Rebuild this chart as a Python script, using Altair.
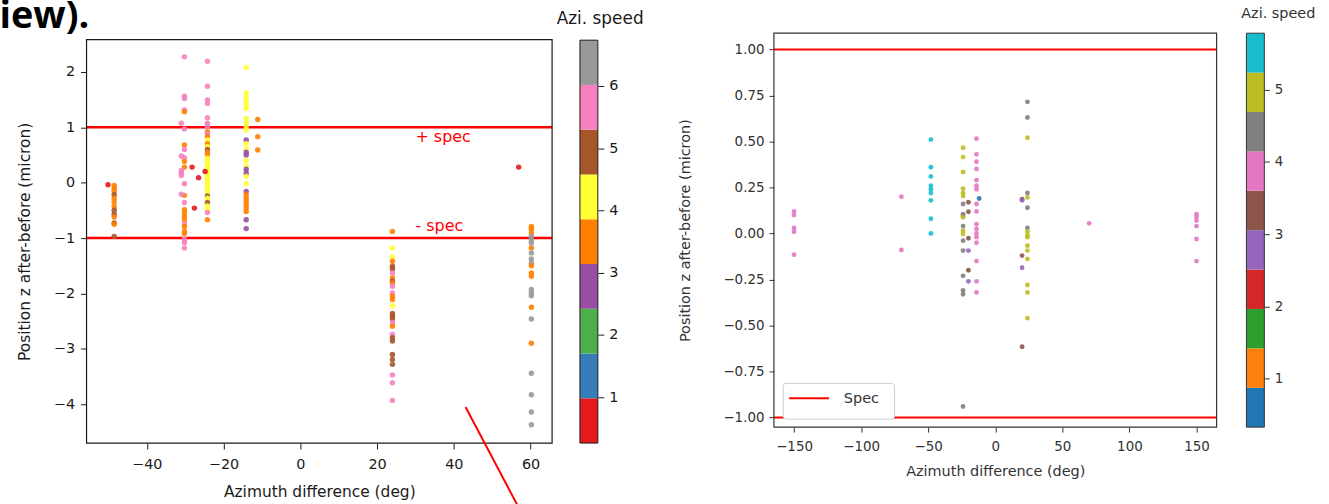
import altair as alt
import pandas as pd

# ---------------- colours (colormaps of the two colorbars) ----------------
SET1 = ["#e41a1c", "#377eb8", "#4daf4a", "#984ea3", "#ff7f00",
        "#ffff33", "#a65628", "#f781bf", "#999999"]
TAB10 = ["#1f77b4", "#ff7f0e", "#2ca02c", "#d62728", "#9467bd",
         "#8c564b", "#e377c2", "#7f7f7f", "#bcbd22", "#17becf"]

# colorbar band edges (speed units) and tick labels
L_CB_EDGES = [0.265, 0.984, 1.703, 2.422, 3.141, 3.859, 4.578, 5.297, 6.016, 6.735]
L_CB_TICKS = [1, 2, 3, 4, 5, 6]
R_CB_EDGES = [0.33, 0.875, 1.42, 1.965, 2.51, 3.055, 3.60, 4.145, 4.69, 5.235, 5.78]
R_CB_TICKS = [1, 2, 3, 4, 5]

# ---------------- left panel: z (micron) per azimuth column, colour band ----------------
L1_AZ = -48.5
L1_Z = [-0.05, -0.10, -0.15, -0.22, -0.28, -0.35, -0.43, -0.50, -0.57, -0.62, -0.73, -0.75, -0.97]
L1_C = [4, 4, 4, 6, 4, 4, 4, 6, 6, 4, 6, 4, 6]

L2_AZ = -30.2
L2_Z = [2.27, 1.56, 1.52, 1.31, 1.28, 0.97, 0.68, 0.60, 0.45, 0.38, 0.28, -0.02, -0.23,
        -0.36, -0.49, -0.55, -0.61, -0.67, -0.74, -0.79, -0.88, -0.92, -1.02, -1.08, -1.18]
L2_C = [7, 7, 7, 7, 4, 7, 4, 7, 7, 4, 4, 7, 4, 7, 4, 4, 4, 4, 7, 4, 4, 4, 7, 7, 7]

L2B_AZ = -31.0
L2B_Z = [1.07, 0.48, 0.22, 0.17, 0.13, -0.21]
L2B_C = [7, 7, 7, 7, 7, 7]

L3_AZ = -24.2
L3_Z = [2.19, 1.74, 1.49, 1.43, 1.17, 1.07, 1.01, 0.92, 0.88, 0.83, 0.77, 0.70, 0.65, 0.60,
        0.55, 0.50, 0.44, 0.40, 0.35, 0.30, 0.23, 0.17, 0.11, 0.06, 0.02, -0.04, -0.10,
        -0.17, -0.24, -0.28, -0.36, -0.42, -0.48, -0.54, -0.67]
L3_C = [7, 7, 7, 7, 7, 7, 7, 4, 7, 4, 5, 4, 5, 6, 4, 4, 5, 5, 5, 5, 5, 5, 5, 5, 5, 5, 5,
        5, 6, 5, 6, 5, 5, 7, 4]

L4_AZ = -14.1
L4_Z = [2.08, 1.62, 1.55, 1.48, 1.40, 1.34, 1.16, 1.09, 1.02, 0.95, 0.77, 0.70, 0.60, 0.55,
        0.50, 0.40, 0.30, 0.24, 0.17, 0.11, -0.02, -0.16, -0.22, -0.28, -0.34, -0.40,
        -0.46, -0.52, -0.67, -0.83]
L4_C = [5, 5, 5, 5, 5, 5, 5, 5, 5, 5, 3, 5, 5, 3, 3, 5, 5, 3, 3, 5, 5, 3, 4, 4, 4, 4, 4,
        4, 3, 3]

L5_AZ = -11.1
L5_Z = [1.14, 0.83, 0.59]
L5_C = [4, 4, 4]

L6_AZ = 24.0
L6_Z = [-0.88, -1.18, -1.34, -1.42, -1.51, -1.56, -1.63, -1.72, -1.78, -1.81, -1.87, -1.99,
        -2.05, -2.11, -2.22, -2.36, -2.41, -2.46, -2.53, -2.59, -2.74, -2.80, -2.86, -3.10,
        -3.19, -3.28, -3.47, -3.61, -3.93]
L6_C = [4, 5, 5, 4, 6, 6, 7, 4, 6, 4, 7, 7, 4, 4, 5, 6, 6, 6, 7, 4, 7, 6, 6, 6, 6, 6, 7, 7, 7]

L7_AZ = 60.2
L7_Z = [-0.79, -0.84, -0.91, -0.97, -1.03, -1.09, -1.18, -1.27, -1.38, -1.45, -1.50, -1.63,
        -1.69, -1.93, -1.99, -2.04, -2.25, -2.46, -2.90, -3.44, -3.83, -4.14, -4.37]
L7_C = [4, 4, 4, 8, 8, 8, 4, 8, 8, 8, 4, 4, 4, 8, 8, 8, 4, 8, 4, 8, 8, 8, 8]

L_RED_AZ = [-50.1, -28.2, -26.5, -24.8, -27.6, 56.9]
L_RED_Z = [-0.04, 0.28, 0.09, 0.20, -0.46, 0.28]

L_SPEC = [1.0, -1.0]
L_SPEC_TXT = ["+ spec", "- spec"]
L_SPEC_TXT_AZ = [30, 30]
L_SPEC_TXT_Z = [0.82, -0.78]

# ---------------- right panel ----------------
R1_AZ, R1_Z, R1_C = -150, [0.12, 0.10, 0.03, 0.01, -0.115], 6
R2_AZ, R2_Z, R2_C = -70, [0.20, -0.09], 6
R3_AZ, R3_Z, R3_C = -48, [0.51, 0.36, 0.31, 0.26, 0.24, 0.22, 0.18, 0.08, 0.0], 9
R4_AZ = -24
R4_Z = [0.466, 0.415, 0.334, 0.244, 0.22, 0.204, 0.16, 0.105, 0.096, 0.088, 0.04, 0.015,
        -0.003, -0.039, -0.093, -0.23, -0.31, -0.33, -0.94]
R4_C = [8, 8, 8, 8, 8, 8, 7, 7, 7, 8, 7, 8, 8, 7, 7, 7, 7, 7, 7]
R5_AZ, R5_Z, R5_C = -20, [0.17, 0.118, -0.026, -0.20, -0.093, -0.26], [5, 5, 5, 5, 4, 4]
R6_AZ = -14
R6_Z = [0.515, 0.43, 0.39, 0.35, 0.29, 0.26, 0.24, 0.16, 0.12, 0.05, 0.024, 0.0, -0.02,
        -0.05, -0.15, -0.26, -0.32]
R6_C = 6
R7_AZ, R7_Z, R7_C = -12, [0.19], 0
R8_AZ = 24
R8_Z = [0.715, 0.63, 0.52, 0.22, 0.196, 0.14, 0.03, 0.01, -0.01, -0.02, -0.066, -0.093,
        -0.138, -0.28, -0.32, -0.46]
R8_C = [7, 7, 8, 7, 8, 7, 7, 8, 8, 8, 8, 8, 8, 8, 8, 8]
R9_AZ, R9_Z, R9_C = 20, [0.186, -0.12, -0.615, 0.18, -0.186], [5, 5, 5, 4, 4]
R10_AZ, R10_Z, R10_C = 70, [0.055], 6
R11_AZ, R11_Z, R11_C = 150, [0.105, 0.09, 0.07, 0.04, -0.03, -0.15], 6

R_SPEC = [1.0, -1.0]


def cluster(az, zs, cs):
    if isinstance(cs, int):
        cs = [cs] * len(zs)
    return [{"az": az, "z": z, "c": c} for z, c in zip(zs, cs)]


left_rows = (cluster(L1_AZ, L1_Z, L1_C) + cluster(L2_AZ, L2_Z, L2_C)
             + cluster(L2B_AZ, L2B_Z, L2B_C) + cluster(L3_AZ, L3_Z, L3_C)
             + cluster(L4_AZ, L4_Z, L4_C) + cluster(L5_AZ, L5_Z, L5_C)
             + cluster(L6_AZ, L6_Z, L6_C) + cluster(L7_AZ, L7_Z, L7_C)
             + [{"az": a, "z": z, "c": 0} for a, z in zip(L_RED_AZ, L_RED_Z)])
left_df = pd.DataFrame(left_rows)

right_rows = (cluster(R1_AZ, R1_Z, R1_C) + cluster(R2_AZ, R2_Z, R2_C)
              + cluster(R3_AZ, R3_Z, R3_C) + cluster(R4_AZ, R4_Z, R4_C)
              + cluster(R5_AZ, R5_Z, R5_C) + cluster(R6_AZ, R6_Z, R6_C)
              + cluster(R7_AZ, R7_Z, R7_C) + cluster(R8_AZ, R8_Z, R8_C)
              + cluster(R9_AZ, R9_Z, R9_C) + cluster(R10_AZ, R10_Z, R10_C)
              + cluster(R11_AZ, R11_Z, R11_C))
right_df = pd.DataFrame(right_rows).rename(columns={"c": "rc"})

one = pd.DataFrame({"k": [0]})

FONT = "DejaVu Sans"
TXT_L = "#1a1a1a"
TXT_R = "#333333"

# ---------------- geometry (pixels) ----------------
LW, LH, L_TOP = 468, 412, 6.5      # left plot: group height, plot top inside group
CW1, CH1, C1_TOP = 167, 412, 7
RW, RH = 445, 396
CW2, CH2 = 80, 396
SP = 28


def axis(fs, col, **kw):
    base = dict(labelFont=FONT, labelFontSize=fs, labelColor=col, tickColor=col,
                tickSize=6, domain=False, grid=False, titleFont=FONT,
                titleFontWeight="normal", titleColor=col, titleAlign="center",
                titleBaseline="middle")
    base.update(kw)
    return alt.Axis(**base)


# ================= LEFT SCATTER =================
lx = alt.X("az:Q", scale=alt.Scale(domain=[-55.7, 65.6], nice=False, zero=False),
           axis=axis(14.5, TXT_L, values=[-40, -20, 0, 20, 40, 60], format="d",
                     labelPadding=9, title="Azimuth difference (deg)", titleFontSize=15.5,
                     titleX=LW / 2, titleY=49))
ly = alt.Y("z:Q", scale=alt.Scale(domain=[-4.70, 2.58], range=[LH, L_TOP], nice=False, zero=False),
           axis=axis(14.5, TXT_L, values=[-4, -3, -2, -1, 0, 1, 2], format="d",
                     labelPadding=6, title="Position z after-before (micron)",
                     titleFontSize=15.5, titleAngle=270, titleX=-62,
                     titleY=(LH + L_TOP) / 2))
lcolor = alt.Color("c:N", scale=alt.Scale(domain=list(range(9)), range=SET1), legend=None)

l_points = alt.Chart(left_df).mark_circle(size=30, opacity=0.9).encode(x=lx, y=ly, color=lcolor)
l_spec = alt.Chart(pd.DataFrame({"z": L_SPEC})).mark_rule(color="#ff0000", strokeWidth=2.5).encode(
    y="z:Q", x=alt.value(0), x2=alt.value(LW))
l_spec_txt = alt.Chart(pd.DataFrame({"az": L_SPEC_TXT_AZ, "z": L_SPEC_TXT_Z, "t": L_SPEC_TXT})).mark_text(
    align="left", baseline="middle", color="#ff0000", font=FONT, fontSize=16).encode(
    x="az:Q", y="z:Q", text="t:N")
l_frame = alt.Chart(one).mark_rect(filled=False, color=TXT_L, strokeWidth=1.2).encode(
    x=alt.value(0), x2=alt.value(LW), y=alt.value(L_TOP), y2=alt.value(LH))
# slide decorations
anchor = alt.Chart(one).mark_rect(opacity=0).encode(
    x=alt.value(-126.7), x2=alt.value(-125.7), y=alt.value(-72), y2=alt.value(-71))
heading = alt.Chart(one).mark_text(text="iew).", font="Open Sans", fontSize=38, fontWeight="bold",
                                   align="left", baseline="alphabetic", color="#000").encode(
    x=alt.value(-87.5), y=alt.value(-5))
pointer = alt.Chart(one).mark_rule(color="#ff0000", strokeWidth=2).encode(
    x=alt.value(381), y=alt.value(375.7), x2=alt.value(440.3), y2=alt.value(488))

left = alt.layer(anchor, heading, l_spec, l_points, l_spec_txt, l_frame, pointer).properties(
    width=LW, height=LH)

# ================= LEFT COLORBAR =================
lcb_df = pd.DataFrame({"lo": L_CB_EDGES[:-1], "hi": L_CB_EDGES[1:], "c": list(range(9))})
lcb_y = alt.Y("lo:Q", scale=alt.Scale(domain=[L_CB_EDGES[0], L_CB_EDGES[-1]], range=[CH1, C1_TOP],
                                       nice=False, zero=False),
              axis=axis(14.5, TXT_L, orient="right", offset=18 - CW1, values=L_CB_TICKS,
                        format="d", labelPadding=5, title=None))
lcb = alt.Chart(lcb_df).mark_rect().encode(x=alt.value(0), x2=alt.value(18), y=lcb_y, y2="hi:Q",
                                           color=lcolor)
lcb_frame = alt.Chart(pd.DataFrame({"lo": [L_CB_EDGES[0]], "hi": [L_CB_EDGES[-1]]})).mark_rect(
    filled=False, color=TXT_L, strokeWidth=1).encode(x=alt.value(0), x2=alt.value(18),
                                                     y="lo:Q", y2="hi:Q")
lcb_title = alt.Chart(one).mark_text(text="Azi. speed", font=FONT, fontSize=17, color=TXT_L,
                                     align="center", baseline="middle").encode(
    x=alt.value(20.3), y=alt.value(-14))
left_cb = alt.layer(lcb, lcb_frame, lcb_title).properties(width=CW1, height=CH1)

# ================= RIGHT SCATTER =================
rx = alt.X("az:Q", scale=alt.Scale(domain=[-165, 165], nice=False, zero=False),
           axis=axis(13.5, TXT_R, values=[-150, -100, -50, 0, 50, 100, 150], format="d",
                     labelPadding=7, tickSize=5, title="Azimuth difference (deg)",
                     titleFontSize=14.5, titleX=RW / 2, titleY=45))
ry = alt.Y("z:Q", scale=alt.Scale(domain=[-1.052, 1.088], nice=False, zero=False),
           axis=axis(13.5, TXT_R, values=[-1, -0.75, -0.5, -0.25, 0, 0.25, 0.5, 0.75, 1],
                     format=".2f", labelPadding=5, tickSize=5,
                     title="Position z after-before (micron)", titleFontSize=14.5,
                     titleAngle=270, titleX=-88.7, titleY=RH / 2))
rcolor = alt.Color("rc:N", scale=alt.Scale(domain=list(range(10)), range=TAB10), legend=None)

r_points = alt.Chart(right_df).mark_circle(size=24, opacity=0.9).encode(x=rx, y=ry, color=rcolor)
r_spec = alt.Chart(pd.DataFrame({"z": R_SPEC})).mark_rule(color="#ff0000", strokeWidth=2).encode(
    y="z:Q", x=alt.value(0), x2=alt.value(RW))
r_frame = alt.Chart(one).mark_rect(filled=False, color=TXT_R, strokeWidth=1.2).encode(
    x=alt.value(0), x2=alt.value(RW), y=alt.value(0), y2=alt.value(RH))
# legend box
leg_box = alt.Chart(one).mark_rect(fill="white", stroke="#cccccc", strokeWidth=1, cornerRadius=3).encode(
    x=alt.value(9.3), x2=alt.value(121.3), y=alt.value(352), y2=alt.value(388))
leg_line = alt.Chart(one).mark_rule(color="#ff0000", strokeWidth=2).encode(
    x=alt.value(15.3), x2=alt.value(55.3), y=alt.value(367))
leg_txt = alt.Chart(one).mark_text(text="Spec", font=FONT, fontSize=14.5, color=TXT_R,
                                   align="left", baseline="middle").encode(
    x=alt.value(70.3), y=alt.value(368))
right = alt.layer(r_spec, r_points, leg_box, leg_line, leg_txt, r_frame).properties(
    width=RW, height=RH)

# ================= RIGHT COLORBAR =================
rcb_df = pd.DataFrame({"lo": R_CB_EDGES[:-1], "hi": R_CB_EDGES[1:], "rc": list(range(10))})
rcb_y = alt.Y("lo:Q", scale=alt.Scale(domain=[R_CB_EDGES[0], R_CB_EDGES[-1]], nice=False, zero=False),
              axis=axis(13.5, TXT_R, orient="right", offset=20 - CW2, values=R_CB_TICKS,
                        format="d", labelPadding=5, tickSize=5, title=None))
rcb = alt.Chart(rcb_df).mark_rect().encode(x=alt.value(2), x2=alt.value(20), y=rcb_y, y2="hi:Q",
                                           color=rcolor)
rcb_frame = alt.Chart(pd.DataFrame({"lo": [R_CB_EDGES[0]], "hi": [R_CB_EDGES[-1]]})).mark_rect(
    filled=False, color=TXT_R, strokeWidth=1).encode(x=alt.value(2), x2=alt.value(20),
                                                     y="lo:Q", y2="hi:Q")
rcb_title = alt.Chart(one).mark_text(text="Azi. speed", font=FONT, fontSize=14.5, color=TXT_R,
                                     align="center", baseline="middle").encode(
    x=alt.value(34), y=alt.value(-19))
right_cb = alt.layer(rcb, rcb_frame, rcb_title).properties(width=CW2, height=CH2)

chart = alt.hconcat(left, left_cb, right, right_cb, spacing=SP, bounds="flush").resolve_scale(
    color="independent"
).properties(
    padding={"left": -40, "top": -40, "right": 5, "bottom": 5},
    background="white",
).configure_view(stroke=None)

chart.save("out.html", embed_options={"renderer": "svg", "actions": False})
